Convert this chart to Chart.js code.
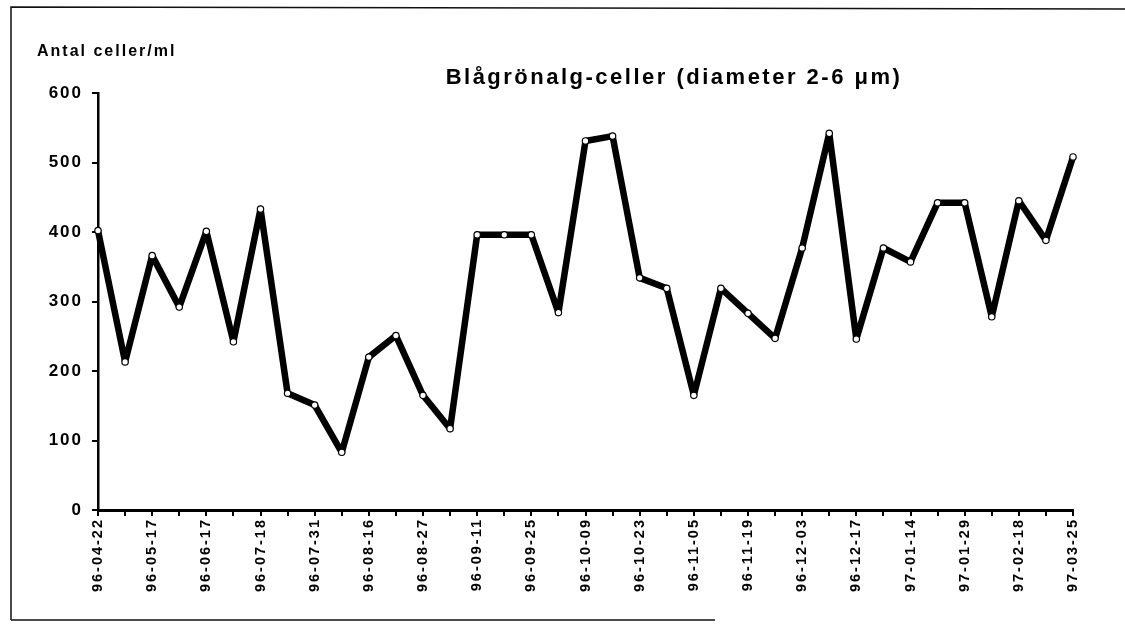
<!DOCTYPE html>
<html>
<head>
<meta charset="utf-8">
<script src="https://cdn.jsdelivr.net/npm/chart.js@4/dist/chart.umd.min.js"></script>
<style>
  html, body { margin: 0; padding: 0; background: #fff; }
  #wrap { width: 1125px; height: 627px; position: relative; }
</style>
</head>
<body>
<div id="wrap"><canvas id="c"></canvas></div>
<script>
// sample dates (only every second one is printed on the axis)
const dates = [
  '96-04-22', '', '96-05-17', '', '96-06-17', '', '96-07-18', '',
  '96-07-31', '', '96-08-16', '', '96-08-27', '', '96-09-11', '',
  '96-09-25', '', '96-10-09', '', '96-10-23', '', '96-11-05', '',
  '96-11-19', '', '96-12-03', '', '96-12-17', '', '97-01-14', '',
  '97-01-29', '', '97-02-18', '', '97-03-25'
];
// Antal celler/ml
const cells = [
  402, 213, 366, 292, 401, 242, 433, 168, 151, 83,
  220, 251, 165, 117, 396, 396, 396, 284, 531, 538,
  334, 319, 165, 319, 283, 247, 377, 542, 246, 377,
  357, 442, 442, 278, 445, 388, 508
];
const yTicks = [0, 100, 200, 300, 400, 500, 600];

const titleText = 'Blågrönalg-celler (diameter 2-6 μm)';
const yLabel = 'Antal celler/ml';
const FONT = '"Liberation Sans", Arial, sans-serif';

// wider letter spacing like the old printout
const spacing = {
  id: 'spacing',
  beforeLayout(chart) { chart.ctx.letterSpacing = '2px'; },
  beforeDraw(chart) { chart.ctx.letterSpacing = '2px'; }
};

const decor = {
  id: 'decor',
  afterDraw(chart) {
    const ctx = chart.ctx;
    ctx.save();
    ctx.fillStyle = '#000';
    ctx.textBaseline = 'alphabetic';
    ctx.letterSpacing = '2.5px';
    ctx.font = 'bold 22px ' + FONT;
    ctx.textAlign = 'center';
    ctx.fillText(titleText, 674, 84);
    ctx.letterSpacing = '2px';
    ctx.font = 'bold 16px ' + FONT;
    ctx.textAlign = 'left';
    ctx.fillText(yLabel, 37, 56);
    // scanned page frame
    ctx.strokeStyle = '#111';
    ctx.lineWidth = 1.5;
    ctx.beginPath();
    ctx.moveTo(11, 620); ctx.lineTo(11, 7); ctx.lineTo(1125, 9);
    ctx.moveTo(11, 620); ctx.lineTo(715, 620);
    ctx.stroke();
    ctx.restore();
  }
};

new Chart(document.getElementById('c'), {
  type: 'line',
  data: {
    labels: dates,
    datasets: [{
      data: cells,
      borderColor: '#000',
      borderWidth: 6.5,
      borderJoinStyle: 'round',
      tension: 0,
      pointRadius: 3.2,
      pointBackgroundColor: '#fff',
      pointBorderColor: '#000',
      pointBorderWidth: 1.2,
      clip: false
    }]
  },
  options: {
    responsive: true,
    maintainAspectRatio: false,
    animation: false,
    layout: { padding: { top: 93, right: 52, left: 0, bottom: 0 } },
    plugins: {
      legend: { display: false },
      tooltip: { enabled: false }
    },
    scales: {
      x: {
        offset: false,
        border: { display: true, color: '#000', width: 3 },
        grid: { display: true, drawOnChartArea: false, drawTicks: true, tickLength: 6, color: '#000', lineWidth: 2 },
        ticks: {
          autoSkip: false,
          minRotation: 90,
          maxRotation: 90,
          padding: 2,
          color: '#000',
          font: { family: FONT, size: 14.5, weight: 'bold' }
        },
        afterFit(axis) { axis.height = 117; }
      },
      y: {
        min: 0,
        max: 600,
        afterBuildTicks(axis) { axis.ticks = yTicks.map(v => ({ value: v })); },
        border: { display: true, color: '#000', width: 2.5 },
        grid: { display: true, drawOnChartArea: false, drawTicks: true, tickLength: 6, color: '#000', lineWidth: 2 },
        ticks: {
          padding: 9,
          color: '#000',
          font: { family: FONT, size: 17, weight: 'bold' }
        },
        afterFit(axis) { axis.width = 98; }
      }
    }
  },
  plugins: [spacing, decor]
});
</script>
</body>
</html>
